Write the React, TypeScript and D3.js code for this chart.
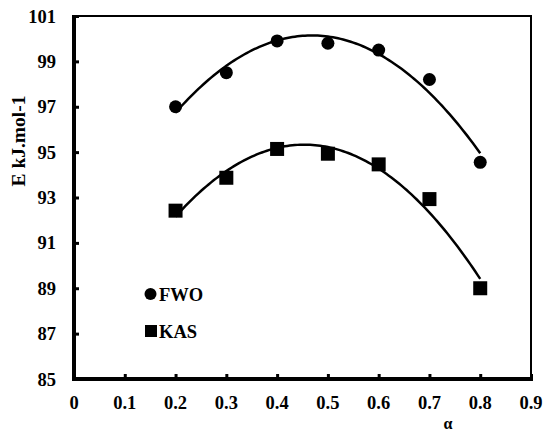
import React, { useEffect, useRef } from 'react';
import * as d3 from 'd3';

const alpha = [0.2, 0.3, 0.4, 0.5, 0.6, 0.7, 0.8];
const fwo = [97.0, 98.5, 99.9, 99.8, 99.5, 98.2, 94.55];
const kas = [92.42, 93.87, 95.14, 94.93, 94.46, 92.93, 89.0];
const xTicks = [0, 0.1, 0.2, 0.3, 0.4, 0.5, 0.6, 0.7, 0.8, 0.9];
const yTicks = [85, 87, 89, 91, 93, 95, 97, 99, 101];

// quadratic least squares, like an Excel poly trendline
const polyFit = (xs: number[], ys: number[]) => {
  const n = xs.length;
  let s1 = 0, s2 = 0, s3 = 0, s4 = 0, t0 = 0, t1 = 0, t2 = 0;
  xs.forEach((x, i) => {
    const y = ys[i];
    s1 += x; s2 += x * x; s3 += x ** 3; s4 += x ** 4;
    t0 += y; t1 += x * y; t2 += x * x * y;
  });
  const m = [[n, s1, s2, t0], [s1, s2, s3, t1], [s2, s3, s4, t2]];
  for (let i = 0; i < 3; i++) {
    for (let k = i + 1; k < 3; k++) {
      const f = m[k][i] / m[i][i];
      for (let j = i; j < 4; j++) m[k][j] -= f * m[i][j];
    }
  }
  const c = [0, 0, 0];
  for (let i = 2; i >= 0; i--) {
    let s = m[i][3];
    for (let j = i + 1; j < 3; j++) s -= m[i][j] * c[j];
    c[i] = s / m[i][i];
  }
  return (x: number) => c[0] + c[1] * x + c[2] * x * x;
};

const App = () => {
  const ref = useRef<SVGSVGElement>(null);

  useEffect(() => {
    const width = 544, height = 434;
    const left = 74, right = 531, top = 16, bottom = 379;
    const svg = d3.select(ref.current);
    svg.selectAll('*').remove();

    const x = d3.scaleLinear().domain([0, 0.9]).range([left, right]);
    const y = d3.scaleLinear().domain([85, 101]).range([bottom, top]);
    const font = "'Liberation Serif', 'Times New Roman', serif";

    // top/right frame
    svg.append('path')
       .attr('d', `M${left},${top}H${right}V${bottom}`)
       .attr('fill', 'none')
       .attr('stroke', '#000')
       .attr('stroke-width', 2);

    // y axis
    const yAxis = svg.append('g')
       .attr('transform', `translate(${left},0)`)
       .call(d3.axisRight(y).tickValues(yTicks).tickSize(5).tickFormat(() => ''));
    yAxis.select('.domain').attr('stroke-width', 4).attr('d', `M0,${top - 1}V${bottom + 2}`);
    yAxis.selectAll('.tick line').attr('stroke-width', 3);

    svg.selectAll('.ylab')
       .data(yTicks)
       .enter()
       .append('text')
       .attr('class', 'ylab')
       .attr('x', 56)
       .attr('y', d => y(d) + 6.5)
       .attr('text-anchor', 'end')
       .attr('font-family', font)
       .attr('font-weight', 'bold')
       .attr('font-size', 18.5)
       .text(d => d);

    // x axis
    const xAxis = svg.append('g')
       .attr('transform', `translate(0,${bottom})`)
       .call(d3.axisTop(x).tickValues(xTicks).tickSize(5).tickFormat(() => ''));
    xAxis.select('.domain').attr('stroke-width', 4).attr('d', `M${left - 2},0H${right + 2}`);
    xAxis.selectAll('.tick line').attr('stroke-width', 3);

    svg.selectAll('.xlab')
       .data(xTicks)
       .enter()
       .append('text')
       .attr('class', 'xlab')
       .attr('x', d => x(d))
       .attr('y', 409)
       .attr('text-anchor', 'middle')
       .attr('font-family', font)
       .attr('font-weight', 'bold')
       .attr('font-size', 18.5)
       .text(d => d);

    svg.append('text')
       .attr('transform', 'translate(25,141) rotate(-90)')
       .attr('text-anchor', 'middle')
       .attr('font-family', font)
       .attr('font-weight', 'bold')
       .attr('font-size', 19.5)
       .text('E kJ.mol-1');

    svg.append('text')
       .attr('x', 448)
       .attr('y', 429)
       .attr('text-anchor', 'middle')
       .attr('font-family', font)
       .attr('font-weight', 'bold')
       .attr('font-size', 16)
       .text('α');

    // trend lines
    const line = d3.line<number>().x(d => x(d[0])).y(d => y(d[1]));
    const xs = d3.range(0.2, 0.8001, 0.005);
    [fwo, kas].forEach(vals => {
      const f = polyFit(alpha, vals);
      svg.append('path')
         .attr('d', line(xs.map(v => [v, f(v)]) as any))
         .attr('fill', 'none')
         .attr('stroke', '#000')
         .attr('stroke-width', 2.5);
    });

    svg.selectAll('.fwo')
       .data(alpha)
       .enter()
       .append('circle')
       .attr('cx', d => x(d))
       .attr('cy', (d, i) => y(fwo[i]))
       .attr('r', 6.5)
       .attr('fill', '#000');

    svg.selectAll('.kas')
       .data(alpha)
       .enter()
       .append('rect')
       .attr('x', d => x(d) - 7)
       .attr('y', (d, i) => y(kas[i]) - 7)
       .attr('width', 14)
       .attr('height', 14)
       .attr('fill', '#000');

    // legend
    svg.append('circle').attr('cx', 150.5).attr('cy', 294).attr('r', 6).attr('fill', '#000');
    svg.append('rect').attr('x', 145).attr('y', 325).attr('width', 12).attr('height', 12).attr('fill', '#000');
    [['FWO', 301], ['KAS', 338]].forEach(([t, yy]) => {
      svg.append('text')
         .attr('x', 159)
         .attr('y', yy as number)
         .attr('font-family', font)
         .attr('font-weight', 'bold')
         .attr('font-size', 18.5)
         .text(t as string);
    });

    svg.attr('width', width).attr('height', height);
  }, []);

  return (
    <svg ref={ref} style={{ position: 'absolute', left: 0, top: 0, background: '#fff' }} />
  );
};

export default App;
